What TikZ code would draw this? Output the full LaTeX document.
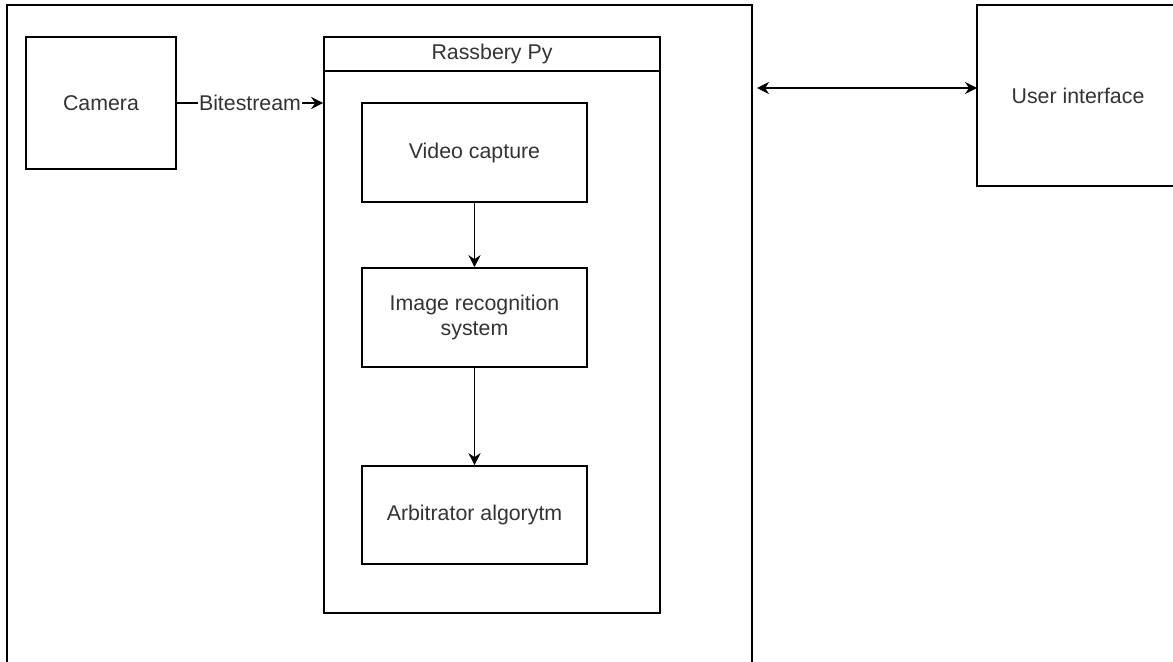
\documentclass[tikz,border=0pt]{standalone}
\usepackage{fontspec}
\setmainfont{Liberation Sans}
\usetikzlibrary{arrows.meta}
\definecolor{txt}{HTML}{333333}
\tikzset{
  box/.style={draw=black, line width=1.2pt, rectangle, inner sep=0pt, align=center,
    text=txt, font=\fontsize{16}{19}\selectfont},
  arr/.style={line width=1.2pt, -{Stealth[length=9pt,width=9pt]}},
  darr/.style={line width=1.2pt, {Stealth[length=9pt,width=9pt]}-{Stealth[length=9pt,width=9pt]}},
  lbl/.style={fill=white, inner sep=1pt, text=txt, font=\fontsize{16}{19}\selectfont},
}
\begin{document}
\begin{tikzpicture}[x=0.75pt,y=-0.75pt]
\clip (0,0) rectangle (1173,661);
% outer container
\node[box, minimum width=745*0.75pt, minimum height=695*0.75pt] (outer) at (379.5,352.5) {};
% camera
\node[box, minimum width=150*0.75pt, minimum height=132*0.75pt] (camera) at (101,103) {Camera};
% raspberry container
\node[box, minimum width=336*0.75pt, minimum height=576*0.75pt] (rpi) at (492,325) {};
\coordinate (hl) at (324,71);
\coordinate (hr) at (660,71);
\draw[line width=1.2pt] (hl) -- (hr);
\node[text=txt, font=\fontsize{16}{19}\selectfont] (rpititle) at (492,54) {Rassbery Py};
% inner boxes
\node[box, minimum width=225*0.75pt, minimum height=99*0.75pt] (vc) at (474.5,152.5) {Video capture};
\node[box, minimum width=225*0.75pt, minimum height=99*0.75pt] (ir) at (474.5,317.5) {Image recognition\\system};
\node[box, minimum width=225*0.75pt, minimum height=98*0.75pt] (arb) at (474.5,515) {Arbitrator algorytm};
% user interface
\node[box, minimum width=202*0.75pt, minimum height=181*0.75pt] (ui) at (1078,95.5) {User interface};
% connectors
\draw[arr] (camera.east) -- (rpi.west |- camera.east) node[lbl, midway] (bs) {Bitestream};
\draw[arr] (vc.south) -- (ir.north);
\draw[arr] (ir.south) -- (arb.north);
\coordinate (uiL) at (757,88);
\coordinate (uiR) at (977,88);
\draw[darr] (uiL) -- (uiR);
\end{tikzpicture}
\end{document}
